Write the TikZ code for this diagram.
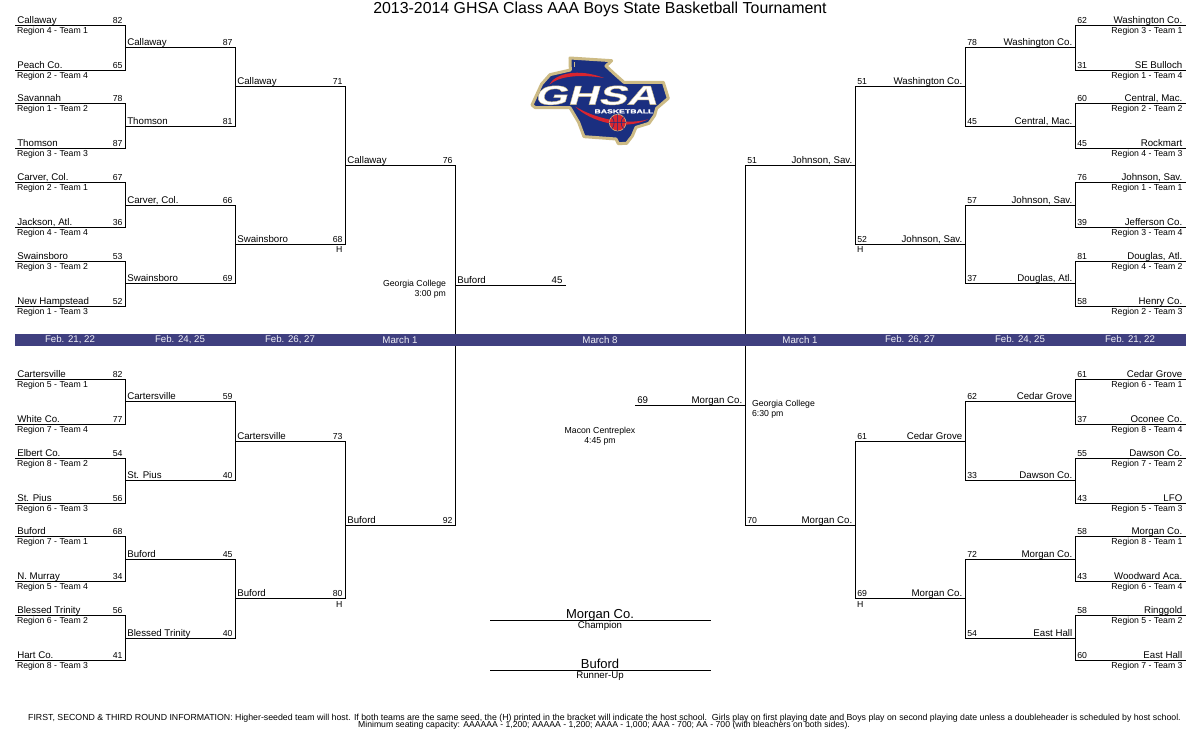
\documentclass[tikz,border=0pt]{standalone}
\usepackage{fontspec}
\setmainfont{Liberation Sans}
\newfontfamily\logofont[BoldFeatures={FakeSlant=0.28,FakeStretch=1.58,FakeBold=1.5}]{Liberation Sans}
\newfontfamily\logosmall[BoldFeatures={FakeStretch=1.5,FakeBold=0.4}]{Liberation Sans}
\definecolor{bandblue}{HTML}{3F3F7F}
\definecolor{bandtext}{HTML}{F0F0F6}
\definecolor{logonavy}{HTML}{1A2F80}
\definecolor{logogold}{HTML}{CDBB85}
\definecolor{logored}{HTML}{D9252F}
\tikzset{
  bline/.style={draw=black,line width=1pt,line cap=rect},
  txt/.style={inner sep=0pt,outer sep=0pt,font=\fontsize{8.7}{10}\selectfont,text=black},
  teamtxt/.style={txt,font=\fontsize{9.7}{11}\selectfont},
  bandlabel/.style={teamtxt,text=bandtext,anchor=center},
}
\newcommand\lineL[5]{% name, x, pixel row, team, score : team on the left
  \coordinate (#1-a) at (#2+0.5,#3+0.5);
  \coordinate (#1-b) at (#2+110.5,#3+0.5);
  \draw[bline] (#1-a) -- (#1-b);
  \node[teamtxt,anchor=base west] (#1-t) at (#2+2.3,#3-1.2) {#4};
  \node[txt,anchor=base east] (#1-s) at (#2+107.5,#3-1.2) {#5};
}
\newcommand\lineR[5]{% name, x, pixel row, team, score : score on the left
  \coordinate (#1-a) at (#2+0.5,#3+0.5);
  \coordinate (#1-b) at (#2+110.5,#3+0.5);
  \draw[bline] (#1-a) -- (#1-b);
  \node[teamtxt,anchor=base east] (#1-t) at (#2+107.3,#3-1.2) {#4};
  \node[txt,anchor=base west] (#1-s) at (#2+2.3,#3-1.2) {#5};
}
\newcommand\seedL[2]{\node[txt,anchor=base west] (#1-r) at ([xshift=1.5pt,yshift=-8pt]#1-a) {#2};}
\newcommand\seedR[2]{\node[txt,anchor=base east] (#1-r) at ([xshift=-3pt,yshift=-8pt]#1-b) {#2};}
\newcommand\joinL[2]{\draw[bline] (#1-b) -- (#2-b);}
\newcommand\joinR[2]{\draw[bline] (#1-a) -- (#2-a);}
\begin{document}
\begin{tikzpicture}[x=1pt,y=-1pt]
\useasboundingbox (0,0) rectangle (1200,750);
\fill[white] (0,0) rectangle (1200,750);

\node[txt,font=\fontsize{15.9}{18}\selectfont] (title) at (600,9.8) {2013-2014 GHSA Class AAA Boys State Basketball Tournament};

% ---------- left top
\lineL{a1}{15}{25}{Callaway}{82}\seedL{a1}{Region 4 - Team 1}
\lineL{a2}{15}{70}{Peach Co.}{65}\seedL{a2}{Region 2 - Team 4}
\lineL{a3}{15}{103}{Savannah}{78}\seedL{a3}{Region 1 - Team 2}
\lineL{a4}{15}{148}{Thomson}{87}\seedL{a4}{Region 3 - Team 3}
\lineL{a5}{15}{182}{Carver, Col.}{67}\seedL{a5}{Region 2 - Team 1}
\lineL{a6}{15}{227}{Jackson, Atl.}{36}\seedL{a6}{Region 4 - Team 4}
\lineL{a7}{15}{261}{Swainsboro}{53}\seedL{a7}{Region 3 - Team 2}
\lineL{a8}{15}{306}{New Hampstead}{52}\seedL{a8}{Region 1 - Team 3}
\lineL{b1}{125}{47}{Callaway}{87}
\lineL{b2}{125}{126}{Thomson}{81}
\lineL{b3}{125}{205}{Carver, Col.}{66}
\lineL{b4}{125}{283}{Swainsboro}{69}
\lineL{c1}{235}{86}{Callaway}{71}
\lineL{c2}{235}{244}{Swainsboro}{68}
\node[txt,anchor=base east] (c2-h) at (342.5,252) {H};
\lineL{d1}{345}{165}{Callaway}{76}
\joinL{a1}{a2}\joinL{a3}{a4}\joinL{a5}{a6}\joinL{a7}{a8}
\joinL{b1}{b2}\joinL{b3}{b4}\joinL{c1}{c2}

% ---------- left bottom
\lineL{e1}{15}{379}{Cartersville}{82}\seedL{e1}{Region 5 - Team 1}
\lineL{e2}{15}{424}{White Co.}{77}\seedL{e2}{Region 7 - Team 4}
\lineL{e3}{15}{458}{Elbert Co.}{54}\seedL{e3}{Region 8 - Team 2}
\lineL{e4}{15}{503}{St. Pius}{56}\seedL{e4}{Region 6 - Team 3}
\lineL{e5}{15}{536}{Buford}{68}\seedL{e5}{Region 7 - Team 1}
\lineL{e6}{15}{581}{N. Murray}{34}\seedL{e6}{Region 5 - Team 4}
\lineL{e7}{15}{615}{Blessed Trinity}{56}\seedL{e7}{Region 6 - Team 2}
\lineL{e8}{15}{660}{Hart Co.}{41}\seedL{e8}{Region 8 - Team 3}
\lineL{f1}{125}{401}{Cartersville}{59}
\lineL{f2}{125}{480}{St. Pius}{40}
\lineL{f3}{125}{559}{Buford}{45}
\lineL{f4}{125}{638}{Blessed Trinity}{40}
\lineL{g1}{235}{441}{Cartersville}{73}
\lineL{g2}{235}{598}{Buford}{80}
\node[txt,anchor=base east] (g2-h) at (342.5,607) {H};
\lineL{h1}{345}{525}{Buford}{92}
\joinL{e1}{e2}\joinL{e3}{e4}\joinL{e5}{e6}\joinL{e7}{e8}
\joinL{f1}{f2}\joinL{f3}{f4}\joinL{g1}{g2}
\joinL{d1}{h1}

% ---------- right top
\lineR{p1}{1075}{25}{Washington Co.}{62}\seedR{p1}{Region 3 - Team 1}
\lineR{p2}{1075}{70}{SE Bulloch}{31}\seedR{p2}{Region 1 - Team 4}
\lineR{p3}{1075}{103}{Central, Mac.}{60}\seedR{p3}{Region 2 - Team 2}
\lineR{p4}{1075}{148}{Rockmart}{45}\seedR{p4}{Region 4 - Team 3}
\lineR{p5}{1075}{182}{Johnson, Sav.}{76}\seedR{p5}{Region 1 - Team 1}
\lineR{p6}{1075}{227}{Jefferson Co.}{39}\seedR{p6}{Region 3 - Team 4}
\lineR{p7}{1075}{261}{Douglas, Atl.}{81}\seedR{p7}{Region 4 - Team 2}
\lineR{p8}{1075}{306}{Henry Co.}{58}\seedR{p8}{Region 2 - Team 3}
\lineR{q1}{965}{47}{Washington Co.}{78}
\lineR{q2}{965}{126}{Central, Mac.}{45}
\lineR{q3}{965}{205}{Johnson, Sav.}{57}
\lineR{q4}{965}{283}{Douglas, Atl.}{37}
\lineR{r1}{855}{86}{Washington Co.}{51}
\lineR{r2}{855}{244}{Johnson, Sav.}{52}
\node[txt,anchor=base west] (r2-h) at (857,252) {H};
\lineR{s1}{745}{165}{Johnson, Sav.}{51}
\joinR{p1}{p2}\joinR{p3}{p4}\joinR{p5}{p6}\joinR{p7}{p8}
\joinR{q1}{q2}\joinR{q3}{q4}\joinR{r1}{r2}

% ---------- right bottom
\lineR{t1}{1075}{379}{Cedar Grove}{61}\seedR{t1}{Region 6 - Team 1}
\lineR{t2}{1075}{424}{Oconee Co.}{37}\seedR{t2}{Region 8 - Team 4}
\lineR{t3}{1075}{458}{Dawson Co.}{55}\seedR{t3}{Region 7 - Team 2}
\lineR{t4}{1075}{503}{LFO}{43}\seedR{t4}{Region 5 - Team 3}
\lineR{t5}{1075}{536}{Morgan Co.}{58}\seedR{t5}{Region 8 - Team 1}
\lineR{t6}{1075}{581}{Woodward Aca.}{43}\seedR{t6}{Region 6 - Team 4}
\lineR{t7}{1075}{615}{Ringgold}{58}\seedR{t7}{Region 5 - Team 2}
\lineR{t8}{1075}{660}{East Hall}{60}\seedR{t8}{Region 7 - Team 3}
\lineR{u1}{965}{401}{Cedar Grove}{62}
\lineR{u2}{965}{480}{Dawson Co.}{33}
\lineR{u3}{965}{559}{Morgan Co.}{72}
\lineR{u4}{965}{638}{East Hall}{54}
\lineR{v1}{855}{441}{Cedar Grove}{61}
\lineR{v2}{855}{598}{Morgan Co.}{69}
\node[txt,anchor=base west] (v2-h) at (857,607) {H};
\lineR{w1}{745}{525}{Morgan Co.}{70}
\joinR{t1}{t2}\joinR{t3}{t4}\joinR{t5}{t6}\joinR{t7}{t8}
\joinR{u1}{u2}\joinR{u3}{u4}\joinR{v1}{v2}
\joinR{s1}{w1}

% ---------- finals
\lineL{x1}{455}{285}{Buford}{\fontsize{9.7}{11}\selectfont 45}
\lineR{x2}{635}{405}{Morgan Co.}{\fontsize{9.7}{11}\selectfont 69}
\node[txt,anchor=base east] (gc1) at (446,286) {Georgia College};
\node[txt,anchor=base east] (gc1t) at (446,296) {3:00 pm};
\node[txt,anchor=base west] (gc2) at (752,406) {Georgia College};
\node[txt,anchor=base west] (gc2t) at (752,416) {6:30 pm};
\node[txt] (mc) at (600,431) {Macon Centreplex};
\node[txt] (mct) at (600,441) {4:45 pm};

% ---------- date band
\fill[bandblue] (15,334) rectangle (1186,346);
\foreach \nm/\xx/\lab in {b1/70/{Feb. 21, 22},b2/180/{Feb. 24, 25},b3/290/{Feb. 26, 27},b4/400/{March 1},b5/600/{March 8},b6/800/{March 1},b7/910/{Feb. 26, 27},b8/1020/{Feb. 24, 25},b9/1130/{Feb. 21, 22}}
  \node[bandlabel] (band-\nm) at (\xx,340) {\lab};

% ---------- champion / runner-up
\coordinate (ch-a) at (490,620.5); \coordinate (ch-b) at (711,620.5);
\coordinate (ru-a) at (490,670.5); \coordinate (ru-b) at (711,670.5);
\draw[bline,line cap=butt] (ch-a) -- (ch-b);
\draw[bline,line cap=butt] (ru-a) -- (ru-b);
\node[txt,anchor=base,font=\fontsize{13}{15}\selectfont] (ch) at (600,618.5) {Morgan Co.};
\node[teamtxt,anchor=base] (chl) at (600,628.5) {Champion};
\node[txt,anchor=base,font=\fontsize{13}{15}\selectfont] (ru) at (600,668.5) {Buford};
\node[teamtxt,anchor=base] (rul) at (600,678) {Runner-Up};

% ---------- footer
\node[txt,anchor=base,font=\fontsize{8.775}{10}\selectfont] (f1) at (604.5,720) {FIRST, SECOND \& THIRD ROUND INFORMATION: Higher-seeded team will host. If both teams are the same seed, the (H) printed in the bracket will indicate the host school.\ \ Girls play on first playing date and Boys play on second playing date unless a doubleheader is scheduled by host school.};
\node[txt,anchor=base,font=\fontsize{8.65}{10}\selectfont] (f2) at (604,727.5) {Minimum seating capacity: AAAAAA - 1,200; AAAAA - 1,200; AAAA - 1,000; AAA - 700; AA - 700 (with bleachers on both sides).};

% ---------- logo
\begin{scope}[shift={(500,40)},x=0.3333pt,y=-0.3333pt]
  \path[fill=logonavy,draw=logogold,line width=3pt,line join=round]
    (210,54) -- (335,62) -- (318,78) -- (345,103) -- (372,127) -- (490,127)
    -- (505,175) -- (470,205) -- (464,226) -- (447,250) -- (408,262) -- (397,288) -- (380,310)
    -- (355,311) -- (348,297) -- (252,290) -- (236,247) -- (210,203) -- (106,203)
    -- (96,195) -- (125,132) -- (150,104) -- (211,90) -- cycle;
  \draw[logogold,line width=0.7pt] (222,66) -- (222,82);
  \fill[logored] (148,134) .. controls (165,100) and (235,84) .. (312,114)
     .. controls (240,102) and (178,108) .. cycle;
  \fill[logored] (226,200) .. controls (270,244) and (370,274) .. (445,238)
     .. controls (370,258) and (280,232) .. cycle;
  \fill[logored,draw=logogold,line width=0.6pt] (353,248) circle (25);
  \draw[logonavy,line width=0.6pt] (328,248) -- (378,248) (353,223) -- (353,273)
     (335,230) .. controls (345,240) and (345,258) .. (335,266)
     (371,230) .. controls (361,240) and (361,258) .. (371,266);
  \node[inner sep=0pt,text=white] (logo-ghsa) at (287,166)
    {\special{pdf:code 0.80 0.73 0.52 RG}\logofont\bfseries\fontsize{27}{29}\selectfont GHSA};
  \node[inner sep=0pt,text=white] (logo-bb) at (372,214)
    {\logosmall\bfseries\fontsize{5.8}{7}\selectfont BASKETBALL};
\end{scope}
\end{tikzpicture}
\end{document}
